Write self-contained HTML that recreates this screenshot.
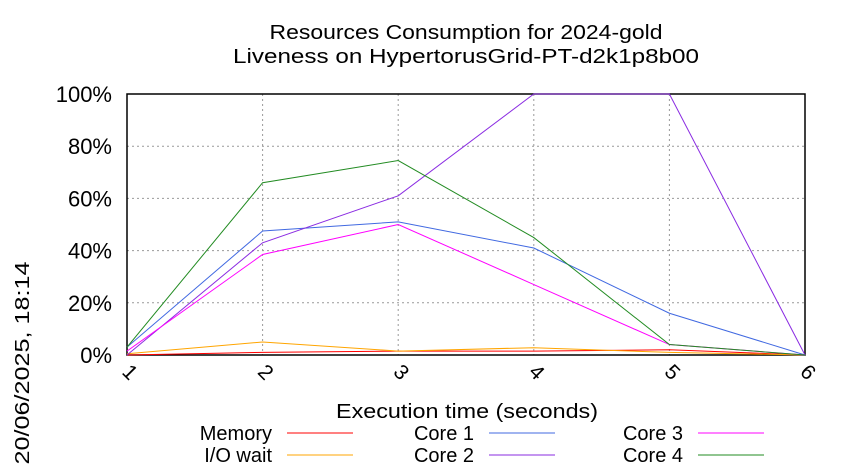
<!DOCTYPE html>
<html><head><meta charset="utf-8"><style>
body{margin:0;background:#fff;}
svg{display:block;font-family:"Liberation Sans",sans-serif;}
</style></head><body>
<svg id="chart" width="850" height="475" viewBox="0 0 850 475">
<text x="466" y="39" font-size="20" text-anchor="middle" textLength="393" lengthAdjust="spacingAndGlyphs">Resources Consumption for 2024-gold</text>
<text x="466" y="63" font-size="20" text-anchor="middle" textLength="466" lengthAdjust="spacingAndGlyphs">Liveness on HypertorusGrid-PT-d2k1p8b00</text>
<text transform="translate(29,363) rotate(-90)" font-size="20" text-anchor="middle" textLength="203" lengthAdjust="spacingAndGlyphs">20/06/2025, 18:14</text>
<text x="467" y="418" font-size="20" text-anchor="middle" textLength="262" lengthAdjust="spacingAndGlyphs">Execution time (seconds)</text>
<g id="grid"></g><g id="axes"></g><g id="series"></g><g id="legend"></g>
</svg>
<script>
const xCats=[1,2,3,4,5,6];
const yTicks=[0,20,40,60,80,100];
const seriesNames=["Memory","I/O wait","Core 1","Core 2","Core 3","Core 4"];
const seriesColors=["#ff0000","#ffa500","#4169e1","#8a2be2","#ff00ff","#228b22"];
const memory=[0,1,1.5,1.5,2,0];
const ioWait=[0.5,5,1.5,2.8,1,0];
const core1=[3,47.5,51,41,16,0];
const core2=[0,43,61,100,100,0];
const core3=[1.5,38.5,50,27,4,0];
const core4=[3,66,74.5,45,4,0];
const allSeries=[memory,ioWait,core1,core2,core3,core4];
const NS="http://www.w3.org/2000/svg";
const L=127,R=805,T=94,B=355;
const xs=v=>L+(v-1)*(R-L)/5;
const ys=v=>B-v*(B-T)/100;
function mk(tag,attrs,parent){const e=document.createElementNS(NS,tag);for(const k in attrs)e.setAttribute(k,attrs[k]);parent.appendChild(e);return e;}
const grid=document.getElementById('grid'),axes=document.getElementById('axes'),ser=document.getElementById('series'),leg=document.getElementById('legend');
yTicks.forEach(t=>{
 if(t>0&&t<100){const g=mk('line',{x1:L,x2:R,y1:ys(t),y2:ys(t),stroke:'#999','stroke-dasharray':'2,3','stroke-width':1},grid);
 
 }
 const tx=mk('text',{x:L-15,y:ys(t)+8,'font-size':22,'text-anchor':'end'},axes);tx.textContent=t+'%';
 
 
});
mk('line',{x1:L,x2:R,y1:T,y2:T,stroke:'#999','stroke-dasharray':'2,3'},grid);
xCats.forEach(c=>{
 if(c>1&&c<6){const g=mk('line',{x1:xs(c),x2:xs(c),y1:T,y2:B,stroke:'#999','stroke-dasharray':'2,3'},grid);
 
 }
 const tx=mk('text',{transform:`translate(${xs(c)-6},${B+18}) rotate(45)`,'font-size':21},axes);tx.textContent=c;
 
 
});
const fr=mk('rect',{x:L,y:T,width:R-L,height:B-T,fill:'none',stroke:'#000','stroke-width':1.5},axes);


allSeries.forEach((s,i)=>{
 const p=mk('polyline',{points:s.map((v,j)=>xs(xCats[j])+','+ys(v)).join(' '),fill:'none',stroke:seriesColors[i],'stroke-width':1},ser);
 
 
});
const colX=[272,474,683],rowY=[433,455];
seriesNames.forEach((n,i)=>{
 const c=Math.floor(i/2),r=i%2;
 const tx=mk('text',{x:colX[c],y:rowY[r]+7,'font-size':20,'text-anchor':'end'},leg);tx.textContent=n;
 
 
 const ln=mk('line',{x1:colX[c]+15,x2:colX[c]+81,y1:rowY[r],y2:rowY[r],stroke:seriesColors[i],'stroke-width':1},leg);
 
 
});
</script>
</body></html>
